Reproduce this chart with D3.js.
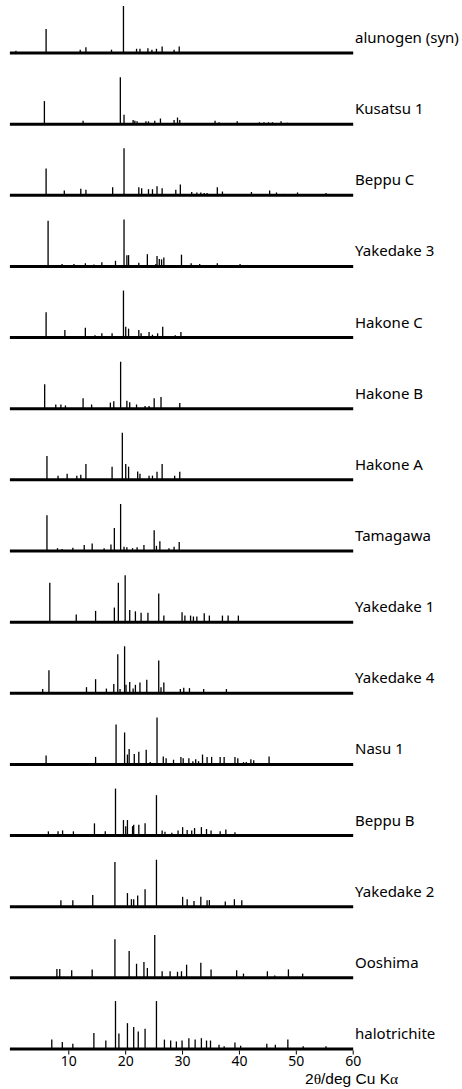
<!DOCTYPE html>
<html>
<head>
<meta charset="utf-8">
<script src="https://cdn.jsdelivr.net/npm/d3@7"></script>
<style>
  html, body { margin: 0; padding: 0; background: #fff; }
  svg { display: block; }
  text { font-family: "Noto Sans", sans-serif; fill: #000; }
</style>
</head>
<body>
<svg id="chart" width="462" height="1089"></svg>
<script>
// ---- Data: sample names (top to bottom) ----
const samples = ["alunogen (syn)", "Kusatsu 1", "Beppu C", "Yakedake 3", "Hakone C",
  "Hakone B", "Hakone A", "Tamagawa", "Yakedake 1", "Yakedake 4", "Nasu 1",
  "Beppu B", "Yakedake 2", "Ooshima", "halotrichite"];

// ---- Peaks: [2θ (deg), relative intensity] ----
const alunogenPeaks = [[0.8,5],[6.1,51],[12.1,7],[13.1,12],[17.6,7],[19.7,100],[22.0,9],[22.6,9],
  [24.0,10],[24.7,7],[25.5,9],[26.5,14],[28.6,7],[29.5,14]];
const kusatsu1Peaks = [[5.8,49],[12.6,7],[19.15,100],[19.8,20],[21.4,9],[21.7,7],[22.1,6],[23.65,6],
  [24.1,6],[25.2,7],[26.2,12],[28.6,9],[29.2,14],[29.6,9],[35.8,7],[36.5,4],[39.7,6],[43.6,4],
  [44.4,4],[45.2,4],[45.9,4],[47.4,6],[48.5,3]];
const beppuCPeaks = [[6.1,57],[9.3,10],[12.2,14],[13.1,12],[17.8,17],[19.8,100],[22.4,17],[22.9,15],
  [24.1,13],[24.8,13],[25.6,19],[26.5,15],[28.9,12],[29.7,23],[31.7,7],[32.6,6],[33.3,6],[33.9,5],
  [34.4,5],[36.2,17],[37.1,8],[42.2,7],[45.4,10],[46.6,6],[48.0,3],[50.3,6],[55.3,5]];
const yakedake3Peaks = [[6.45,97],[8.9,5],[11.0,5],[13.0,7],[14.5,4],[15.9,9],[18.3,12],[19.8,100],
  [20.3,24],[20.6,24],[22.4,8],[23.9,26],[25.4,5],[25.6,22],[26.0,16],[26.4,15],[26.8,19],[29.9,25],
  [31.6,7],[33.1,5],[34.4,3],[36.2,7],[37.0,3],[40.2,5],[41.7,3]];
const hakoneCPeaks = [[6.1,54],[9.4,16],[13.0,21],[14.7,5],[15.9,9],[17.7,9],[19.7,100],[20.1,23],
  [20.6,19],[22.4,16],[22.8,9],[24.2,12],[24.8,6],[25.7,9],[26.6,23],[28.8,5],[29.8,12]];
const hakoneBPeaks = [[5.85,52],[7.8,9],[8.7,9],[9.5,7],[12.6,22],[14.1,9],[17.4,13],[18.0,16],
  [19.2,100],[20.3,17],[20.8,14],[22.0,9],[23.5,6],[24.2,6],[25.1,22],[26.3,25],[29.6,12]];
const hakoneAPeaks = [[6.25,51],[8.2,9],[9.8,13],[11.5,9],[12.2,11],[13.1,34],[17.7,28],[19.5,100],
  [20.1,34],[20.6,28],[22.2,18],[22.6,13],[24.2,9],[24.8,9],[25.6,17],[26.5,34],[28.7,9],[29.6,17]];
const tamagawaPeaks = [[6.25,76],[8.1,6],[8.9,4],[10.8,7],[12.8,13],[14.2,16],[16.3,6],[17.5,14],
  [18.1,49],[19.2,100],[19.8,9],[20.3,8],[21.3,6],[22.1,8],[23.3,13],[25.1,44],[25.5,11],[26.1,21],
  [27.7,6],[28.6,9],[29.5,19]];
const yakedake1Peaks = [[6.75,84],[11.4,16],[14.8,24],[18.1,31],[18.8,84],[20.0,100],[20.8,26],
  [21.8,23],[22.8,20],[24.0,20],[25.9,61],[26.8,14],[30.0,21],[30.5,14],[31.5,14],[32.0,12],
  [32.6,12],[33.9,19],[34.8,14],[37.1,14],[38.1,14],[39.9,14]];
const yakedake4Peaks = [[5.5,9],[6.6,49],[13.2,13],[14.8,30],[16.7,10],[18.0,20],[18.7,83],[19.1,9],
  [19.9,100],[20.15,18],[20.8,24],[21.4,10],[21.8,18],[22.6,23],[23.8,29],[25.9,70],[26.3,13],
  [26.8,23],[29.7,9],[30.3,12],[31.3,11],[33.8,9],[37.8,9]];
const nasu1Peaks = [[6.1,19],[14.8,16],[18.4,85],[19.9,68],[20.4,21],[20.7,33],[21.6,22],[22.4,27],
  [23.7,31],[24.4,5],[25.6,100],[26.7,17],[27.2,13],[28.5,10],[29.8,16],[30.2,13],[31.2,13],
  [31.9,7],[32.4,11],[32.9,7],[33.6,21],[34.4,16],[35.2,16],[36.7,16],[37.4,16],[39.3,16],
  [39.8,13],[40.8,5],[41.3,5],[42.1,11],[42.6,9],[45.3,17]];
const beppuBPeaks = [[6.5,9],[8.2,9],[9.0,11],[10.9,9],[14.6,26],[16.5,9],[18.3,100],[19.7,33],
  [20.1,20],[20.4,33],[21.3,20],[21.5,23],[22.4,23],[23.5,26],[25.5,86],[26.5,11],[27.0,8],
  [28.2,6],[29.3,11],[30.1,18],[30.9,12],[31.7,11],[32.2,16],[33.4,18],[34.3,14],[35.1,11],
  [36.7,9],[37.7,13],[39.3,7]];
const yakedake2Peaks = [[8.7,14],[10.8,14],[14.3,25],[18.2,95],[20.4,29],[21.1,16],[21.5,16],
  [22.2,24],[23.5,37],[25.5,100],[30.1,21],[30.9,16],[32.1,12],[33.3,21],[34.4,14],[34.8,14],
  [37.6,11],[39.2,16],[40.5,14]];
const ooshimaPeaks = [[8.0,19],[8.5,19],[10.6,16],[14.2,18],[18.2,82],[20.7,57],[22.0,30],[23.3,34],
  [23.9,21],[25.2,91],[26.5,14],[27.9,14],[29.2,13],[29.9,14],[30.8,28],[33.3,32],[35.1,18],
  [39.6,16],[40.8,9],[45.0,14],[46.3,5],[48.7,18],[51.2,9]];
const halotrichitePeaks = [[7.1,20],[8.95,15],[10.8,11],[14.5,34],[16.6,18],[18.3,102],[18.9,33],
  [20.4,55],[21.5,47],[22.3,37],[23.5,43],[25.5,102],[26.9,20],[28.0,18],[29.0,16],[30.0,18],
  [31.2,23],[32.3,20],[33.4,23],[34.3,18],[35.0,18],[36.5,9],[37.4,6],[39.3,14],[40.3,7],
  [44.9,11],[46.4,9],[48.6,20],[51.3,6],[55.3,6]];

const peakSets = [alunogenPeaks, kusatsu1Peaks, beppuCPeaks, yakedake3Peaks, hakoneCPeaks,
  hakoneBPeaks, hakoneAPeaks, tamagawaPeaks, yakedake1Peaks, yakedake4Peaks, nasu1Peaks,
  beppuBPeaks, yakedake2Peaks, ooshimaPeaks, halotrichitePeaks];

const xTicks = [10, 20, 30, 40, 50, 60];
const xTitle = ["2", "θ", "/deg Cu K", "α"];

// ---- Scales ----
const svg = d3.select("#chart");
const x = d3.scaleLinear().domain([0, 60]).range([11.4, 352.7]);
const yBase = d3.scalePoint().domain(samples).range([53, 1049]);
const h = d3.scaleLinear().domain([0, 100]).range([0, 47]);

const panels = svg.selectAll("g.panel")
  .data(samples.map((name, i) => ({ name, peaks: peakSets[i] })))
  .join("g")
  .attr("class", "panel")
  .attr("transform", d => `translate(0,${yBase(d.name)})`);

// sticks
panels.selectAll("line.peak")
  .data(d => d.peaks)
  .join("line")
  .attr("class", "peak")
  .attr("x1", d => x(d[0])).attr("x2", d => x(d[0]))
  .attr("y1", 0).attr("y2", d => -h(d[1]))
  .attr("stroke", "#000")
  .attr("stroke-width", 1.3);

// baselines
panels.append("line")
  .attr("x1", x(0) - 1.5).attr("x2", x(60) + 0.5)
  .attr("y1", 0).attr("y2", 0)
  .attr("stroke", "#000")
  .attr("stroke-width", 3);

// labels
panels.append("text")
  .attr("x", 355)
  .attr("y", -10)
  .attr("font-size", 15)
  .text(d => d.name);

// bottom axis
const axis = d3.axisBottom(x).tickValues(xTicks).tickSize(4).tickPadding(2).tickFormat(d3.format("d"));
const ag = svg.append("g")
  .attr("transform", `translate(0,${yBase(samples[samples.length - 1]) + 1.5})`)
  .call(axis);
ag.select(".domain").remove();
ag.selectAll(".tick line").attr("stroke", "#000").attr("stroke-width", 1);
ag.selectAll(".tick text")
  .attr("font-family", "'Liberation Sans', Arial, sans-serif")
  .attr("font-size", 14)
  .attr("fill", "#000");

// axis title
const title = svg.append("text")
  .attr("x", 305)
  .attr("y", 1084)
  .attr("font-size", 15.5)
  .attr("font-family", "'Liberation Sans', Arial, sans-serif");
title.selectAll("tspan")
  .data(xTitle)
  .join("tspan")
  .attr("font-family", (d, i) => (i % 2 === 1) ? "'Liberation Serif', serif" : "'Liberation Sans', Arial, sans-serif")
  .text(d => d);
</script>
</body>
</html>
